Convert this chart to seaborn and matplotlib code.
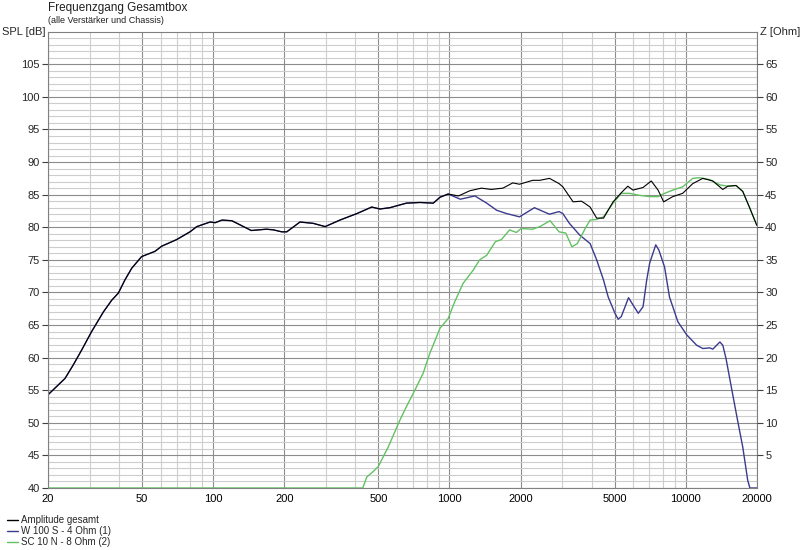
import numpy as np
import pandas as pd
import seaborn as sns
import matplotlib.pyplot as plt
from matplotlib.lines import Line2D
from matplotlib.ticker import FixedLocator, NullFormatter

# 1. Data (Hz, dB)
freq_total = [20, 23.6, 25.6, 27.8, 30.6, 34.3, 37.2, 39.7, 42.3, 45.2, 49.8, 56.7, 60.6,
              70, 79.8, 85.3, 97, 102, 109, 120, 145, 168, 180, 195, 205, 233, 265, 298,
              344, 406, 469, 508, 560, 658, 750, 855, 912, 988, 1092, 1220, 1366, 1504,
              1684, 1854, 1980, 2252, 2414, 2652, 2910, 3020, 3338, 3620, 3730, 3940, 4200,
              4490, 4930, 5340, 5690, 5980, 6600, 7150, 7640, 8070, 8820, 9710, 10720,
              11820, 13020, 14360, 15080, 16340, 17440, 18600, 20000]
spl_total = [54.3, 56.8, 58.9, 61.2, 64.0, 67.0, 68.8, 69.9, 71.9, 73.7, 75.5, 76.3, 77.1,
             78.1, 79.3, 80.1, 80.8, 80.7, 81.1, 81.0, 79.5, 79.7, 79.6, 79.3, 79.3, 80.8,
             80.6, 80.1, 81.1, 82.1, 83.1, 82.8, 83.0, 83.7, 83.8, 83.7, 84.6, 85.1, 84.8,
             85.6, 86.0, 85.8, 86.0, 86.8, 86.6, 87.2, 87.2, 87.5, 86.7, 86.2, 83.9, 84.0,
             83.7, 83.1, 81.4, 81.4, 83.9, 85.3, 86.3, 85.7, 86.1, 87.1, 85.7, 83.9, 84.7,
             85.2, 86.7, 87.5, 87.1, 85.8, 86.3, 86.4, 85.5, 83.1, 80.3]

freq_woofer = [20, 23.6, 25.6, 27.8, 30.6, 34.3, 37.2, 39.7, 42.3, 45.2, 49.8, 56.7, 60.6,
               70, 79.8, 85.3, 97, 102, 109, 120, 145, 168, 180, 195, 205, 233, 265, 298,
               344, 406, 469, 508, 560, 658, 750, 855, 912, 988, 1112, 1282, 1438, 1586,
               1746, 1980, 2290, 2652, 2910, 3020, 3220, 3560, 3940, 4200, 4490, 4700, 5020,
               5180, 5340, 5730, 5980, 6300, 6600, 6840, 7040, 7470, 7700, 8140, 8540, 9270,
               10100, 11130, 11820, 12660, 13020, 13960, 14360, 14810, 15600, 16580, 17440,
               18300, 18700, 20000]
spl_woofer = [54.3, 56.8, 58.9, 61.2, 64.0, 67.0, 68.8, 69.9, 71.9, 73.7, 75.5, 76.3, 77.1,
              78.1, 79.3, 80.1, 80.8, 80.7, 81.1, 81.0, 79.5, 79.7, 79.6, 79.3, 79.3, 80.8,
              80.6, 80.1, 81.1, 82.1, 83.1, 82.8, 83.0, 83.7, 83.8, 83.7, 84.6, 85.1, 84.3,
              84.8, 83.7, 82.6, 82.1, 81.6, 83.0, 82.0, 82.4, 82.1, 80.6, 78.8, 77.5, 75.0,
              71.9, 69.3, 66.8, 65.9, 66.3, 69.2, 68.1, 66.8, 67.8, 71.9, 74.5, 77.3, 76.5,
              73.9, 69.3, 65.5, 63.5, 61.9, 61.4, 61.5, 61.3, 62.4, 61.9, 59.9, 55.5, 50.4,
              46.3, 41.2, 40.0, 40.0]

freq_tweeter = [20, 430, 447, 475, 500, 551, 617, 658, 714, 774, 827, 912, 988, 1054, 1143,
                1260, 1342, 1438, 1566, 1660, 1798, 1920, 2012, 2252, 2414, 2668, 2910, 3110,
                3300, 3480, 3730, 3940, 4200, 4490, 4930, 5340, 5800, 6360, 7040, 7640, 8140,
                8820, 9710, 10720, 11440, 12660, 13960, 15080, 16340, 17440, 18600, 20000]
spl_tweeter = [40.0, 40.0, 41.7, 42.5, 43.3, 46.3, 50.4, 52.5, 55.0, 57.6, 60.7, 64.5, 66.0,
               68.6, 71.4, 73.4, 75.0, 75.7, 77.8, 78.1, 79.6, 79.2, 79.8, 79.7, 80.1, 81.0,
               79.3, 79.1, 77.0, 77.5, 79.6, 81.1, 81.2, 81.6, 83.7, 85.2, 85.2, 84.9, 84.7,
               84.7, 85.2, 85.7, 86.2, 87.5, 87.6, 87.3, 86.5, 86.3, 86.4, 85.5, 83.1, 80.3]

labels = ["Amplitude gesamt", "W 100 S - 4 Ohm (1)", "SC 10 N - 8 Ohm (2)"]
colors = ["#000000", "#3b3b8e", "#62c262"]

x_major = [20, 50, 100, 200, 500, 1000, 2000, 5000, 10000, 20000]
x_minor = [30, 40, 60, 70, 80, 90, 300, 400, 600, 700, 800, 900,
           3000, 4000, 6000, 7000, 8000, 9000]
spl_ticks = list(range(40, 110, 5))
ohm_ticks = list(range(5, 70, 5))

# 2. Style
sns.set_style("white")
plt.rcParams['font.family'] = ['Liberation Sans', 'DejaVu Sans']

fig = plt.figure(figsize=(8, 5.5), dpi=100)
ax = fig.add_axes([0.06, 0.1127, 0.886, 0.8297])

# 3. Curves (woofer and tweeter first, total on top)
sns.lineplot(x=freq_woofer, y=spl_woofer, color=colors[1], linewidth=1.0, ax=ax)
sns.lineplot(x=freq_tweeter, y=spl_tweeter, color=colors[2], linewidth=1.0, ax=ax)
sns.lineplot(x=freq_total, y=spl_total, color=colors[0], linewidth=0.8, ax=ax)

# 4. Axes and grid
ax.set_xscale('log')
ax.set_xlim(20, 20000)
ax.set_ylim(40, 110)
ax.xaxis.set_major_locator(FixedLocator(x_major))
ax.xaxis.set_minor_locator(FixedLocator(x_minor))
ax.xaxis.set_minor_formatter(NullFormatter())
ax.set_xticklabels([str(v) for v in x_major])
ax.set_yticks(spl_ticks)
ax.yaxis.set_minor_locator(FixedLocator(list(range(41, 110))))

ax.grid(which='major', axis='both', color='#8c8c8c', linewidth=0.8)
ax.grid(which='minor', axis='both', color='#cdcdcd', linewidth=0.8)
ax.set_axisbelow(True)
ax.set_xlabel('')
ax.set_ylabel('')

ax.tick_params(axis='x', which='both', length=0, labelsize=8, pad=4, colors='#000000')
ax.tick_params(axis='y', which='major', length=4, width=0.8, color='#404040',
               labelsize=8, pad=2, direction='out')
ax.tick_params(axis='y', which='minor', length=0)
for s in ax.spines.values():
    s.set_color('#808080')
    s.set_linewidth(0.8)

ax2 = ax.twinx()
ax2.set_ylim(0, 70)
ax2.set_yticks(ohm_ticks)
ax2.tick_params(axis='y', length=4, width=0.8, color='#404040', labelsize=8, pad=2)
for s in ax2.spines.values():
    s.set_visible(False)

# 5. Texts
ax.text(-0.004, 1.0, 'SPL [dB]', transform=ax.transAxes, ha='right', va='center', fontsize=8)
ax.text(1.004, 1.0, 'Z [Ohm]', transform=ax.transAxes, ha='left', va='center', fontsize=8)
fig.text(0.06, 0.985, 'Frequenzgang Gesamtbox', ha='left', va='center', fontsize=8.5,
         color='#202020')
fig.text(0.06, 0.963, '(alle Verstärker und Chassis)', ha='left', va='center', fontsize=6.5,
         color='#202020')

handles = [Line2D([0], [0], color=c, linewidth=1) for c in colors]
fig.legend(handles, labels, loc='lower left', bbox_to_anchor=(0.002, -0.005),
           frameon=False, fontsize=7, handlelength=1.1, handletextpad=0.3,
           labelspacing=0.08, borderaxespad=0.2)

fig.savefig('out.png', dpi=100)
